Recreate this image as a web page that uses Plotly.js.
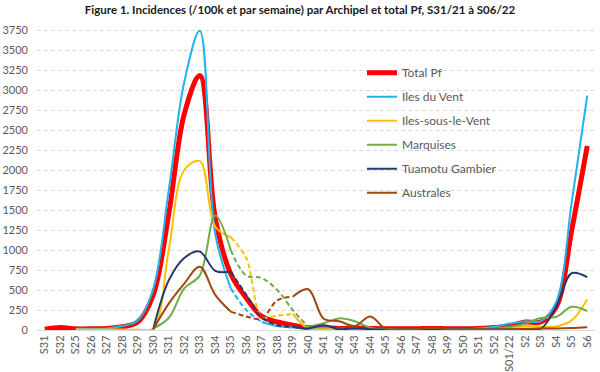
<!DOCTYPE html>
<html><head><meta charset="utf-8">
<script src="https://cdn.plot.ly/plotly-3.0.1.min.js"></script>
<style>html,body{margin:0;padding:0;background:#fff}#chart{width:600px;height:372px}</style>
</head><body><div id="chart"></div>
<script>
// Week labels (x axis, in order as in the source chart)
const weekLabels = ['S31','S32','S25','S26','S27','S28','S29','S30','S31','S32','S33','S34','S35','S36','S37','S38','S39','S40','S41','S42','S43','S44','S45','S46','S47','S48','S49','S50','S51','S52','S01/22','S2','S3','S4','S5','S6'];

// Incidence values (/100k per week)
const totalPf        = [10,30,15,15,20,40,100,440,1450,2700,3180,1400,700,400,170,100,60,30,30,20,25,20,15,15,15,20,15,15,20,30,50,100,100,290,1250,2300];
const ilesDuVent     = [null,null,15,15,20,50,120,510,1750,3100,3740,1200,520,250,100,50,30,20,30,15,15,10,10,10,10,10,10,10,20,40,80,110,110,350,1600,2930];
const ilesSousLeVent = [null,null,5,5,5,5,5,20,1000,2000,2110,1290,1160,900,170,180,200,20,10,10,10,5,5,5,5,5,5,5,5,10,20,50,40,45,120,385];
const marquises      = [null,null,null,null,null,null,null,20,150,520,680,1430,1000,680,650,500,250,40,85,145,110,30,10,10,10,15,10,10,15,20,40,80,150,165,290,237];
const tuamotuGambier = [null,null,null,null,null,null,null,10,620,900,980,740,730,440,160,60,40,20,60,10,20,10,5,5,5,5,5,5,5,5,5,5,15,290,710,660];
const australes      = [null,null,null,null,null,null,null,10,330,580,790,440,230,170,145,370,415,510,140,110,50,170,15,10,10,30,10,5,5,5,10,15,20,20,25,35];

const seriesNames = ['Total Pf','Iles du Vent','Iles-sous-le-Vent','Marquises','Tuamotu Gambier','Australes'];
const seriesValues = [totalPf, ilesDuVent, ilesSousLeVent, marquises, tuamotuGambier, australes];

// styles
const colors = ['#FF0000','#1EB4EE','#FFC000','#70AD47','#223A6B','#9E480E'];
const widths = [5,2,2,2,2,2];
// index ranges (start,end) drawn dashed in the source
const dashed = [null,[12,14],[12,16],[12,17],[12,16],[12,16]];

const xIdx = weekLabels.map((_, i) => i);
const traces = [];
seriesValues.forEach((vals, s) => {
  const d = dashed[s];
  const solid = vals.map((v, i) => (d && i > d[0] && i < d[1]) ? null : v);
  traces.push({
    x: xIdx, y: solid, name: seriesNames[s], type: 'scatter', mode: 'lines',
    legendgroup: 'g' + s, connectgaps: false,
    line: {color: colors[s], width: widths[s], shape: 'spline', smoothing: 1},
    hoverinfo: 'skip'
  });
  if (d) {
    const dv = vals.map((v, i) => (i >= d[0] && i <= d[1]) ? v : null);
    traces.push({
      x: xIdx, y: dv, name: seriesNames[s], type: 'scatter', mode: 'lines',
      legendgroup: 'g' + s, showlegend: false, connectgaps: false,
      line: {color: colors[s], width: widths[s], shape: 'spline', smoothing: 1, dash: '5px,3px'},
      hoverinfo: 'skip'
    });
  }
});

const layout = {
  width: 600, height: 372,
  margin: {l: 37, r: 5, t: 28, b: 42},
  paper_bgcolor: '#fff', plot_bgcolor: '#fff',
  font: {family: 'Lato, "Open Sans", sans-serif', color: '#595959', size: 11},
  title: {
    text: 'Figure 1. Incidences (/100k et par semaine) par Archipel et total Pf, S31/21 à S06/22',
    font: {family: 'Lato, sans-serif', size: 11.5, color: '#1a1a1a', weight: 'bold'},
    x: 0.5, xref: 'container', xanchor: 'center', y: 0.973, yref: 'container', yanchor: 'middle'
  },
  xaxis: {
    range: [-0.5, weekLabels.length - 0.5], tickmode: 'array', tickvals: xIdx, ticktext: weekLabels,
    tickangle: -90, showgrid: false, zeroline: false, showline: true, linecolor: '#d9d9d9', linewidth: 1,
    ticks: '', tickfont: {size: 11, color: '#595959'}, fixedrange: true
  },
  yaxis: {
    range: [0, 3775], tick0: 0, dtick: 250, showgrid: true, gridcolor: '#d9d9d9', griddash: '4px,3px',
    zeroline: false, showline: false, ticks: '', ticklabelstandoff: 8,
    tickfont: {size: 11, color: '#595959'}, fixedrange: true
  },
  legend: {
    x: 0.5824, xanchor: 'left', y: 0.90, yanchor: 'top',
    bgcolor: 'rgba(0,0,0,0)', borderwidth: 0, tracegroupgap: 5,
    font: {family: 'Lato, sans-serif', size: 12, color: '#595959'}
  },
  shapes: [{
    type: 'rect', xref: 'paper', yref: 'paper', x0: 0.552, x1: 0.8835, y0: 0.414, y1: 0.9106,
    fillcolor: '#fff', line: {width: 0}, layer: 'between'
  }],
  showlegend: true
};

Plotly.newPlot('chart', traces, layout, {displayModeBar: false, staticPlot: true});
</script>
</body></html>
